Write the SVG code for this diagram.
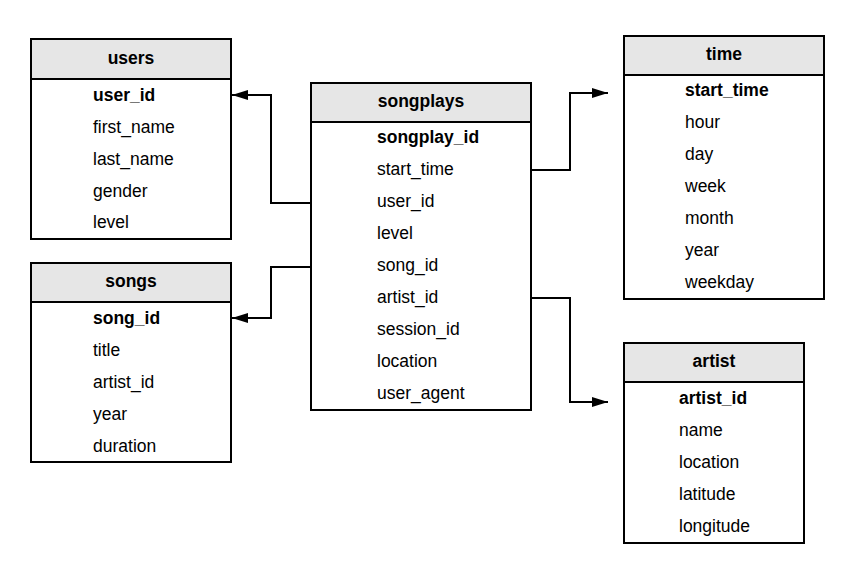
<svg xmlns="http://www.w3.org/2000/svg" width="862" height="580" viewBox="0 0 862 580">
<style>
.box{fill:#fff;stroke:#000;stroke-width:2}
.hdr{fill:#e6e6e6;stroke:#000;stroke-width:2}
text{font-family:"Liberation Sans",Arial,sans-serif;font-size:17.5px;fill:#000;dominant-baseline:central}
.t{font-weight:bold;text-anchor:middle}
.b{font-weight:bold}
.c{fill:none;stroke:#000;stroke-width:2}
</style>
<defs>
<marker id="arr" markerWidth="16" markerHeight="10" refX="16" refY="5" orient="auto" markerUnits="userSpaceOnUse">
<path d="M0,0 L16,5 L0,10 Z" fill="#000"/>
</marker>
</defs>
<rect width="862" height="580" fill="#fff"/>
<g id="users">
<rect class="box" x="31" y="39" width="200" height="200"/>
<rect class="hdr" x="31" y="39" width="200" height="40"/>
<text class="t" x="131" y="58">users</text>
<text class="b" x="93" y="95">user_id</text>
<text x="93" y="127">first_name</text>
<text x="93" y="159">last_name</text>
<text x="93" y="191">gender</text>
<text x="93" y="222">level</text>
</g>
<g id="songs">
<rect class="box" x="31" y="263" width="200" height="199"/>
<rect class="hdr" x="31" y="263" width="200" height="39"/>
<text class="t" x="131" y="281">songs</text>
<text class="b" x="93" y="318">song_id</text>
<text x="93" y="350">title</text>
<text x="93" y="382">artist_id</text>
<text x="93" y="414">year</text>
<text x="93" y="446">duration</text>
</g>
<g id="songplays">
<rect class="box" x="311" y="83" width="220" height="327"/>
<rect class="hdr" x="311" y="83" width="220" height="39"/>
<text class="t" x="421" y="101">songplays</text>
<text class="b" x="377" y="137">songplay_id</text>
<text x="377" y="169">start_time</text>
<text x="377" y="201">user_id</text>
<text x="377" y="233">level</text>
<text x="377" y="265">song_id</text>
<text x="377" y="297">artist_id</text>
<text x="377" y="329">session_id</text>
<text x="377" y="361">location</text>
<text x="377" y="393">user_agent</text>
</g>
<g id="time">
<rect class="box" x="624" y="36" width="200" height="263"/>
<rect class="hdr" x="624" y="36" width="200" height="39"/>
<text class="t" x="724" y="54">time</text>
<text class="b" x="685" y="90">start_time</text>
<text x="685" y="122">hour</text>
<text x="685" y="154">day</text>
<text x="685" y="186">week</text>
<text x="685" y="218">month</text>
<text x="685" y="250">year</text>
<text x="685" y="282">weekday</text>
</g>
<g id="artist">
<rect class="box" x="624" y="343" width="180" height="200"/>
<rect class="hdr" x="624" y="343" width="180" height="39"/>
<text class="t" x="714" y="361">artist</text>
<text class="b" x="679" y="398">artist_id</text>
<text x="679" y="430">name</text>
<text x="679" y="462">location</text>
<text x="679" y="494">latitude</text>
<text x="679" y="526">longitude</text>
</g>
<g id="connectors">
<path class="c" d="M311,203 H271 V95 H232" marker-end="url(#arr)"/>
<path class="c" d="M311,267 H271 V318 H232" marker-end="url(#arr)"/>
<path class="c" d="M531,170 H570 V93 H608" marker-end="url(#arr)"/>
<path class="c" d="M531,298 H570 V402 H608" marker-end="url(#arr)"/>
</g>
</svg>
